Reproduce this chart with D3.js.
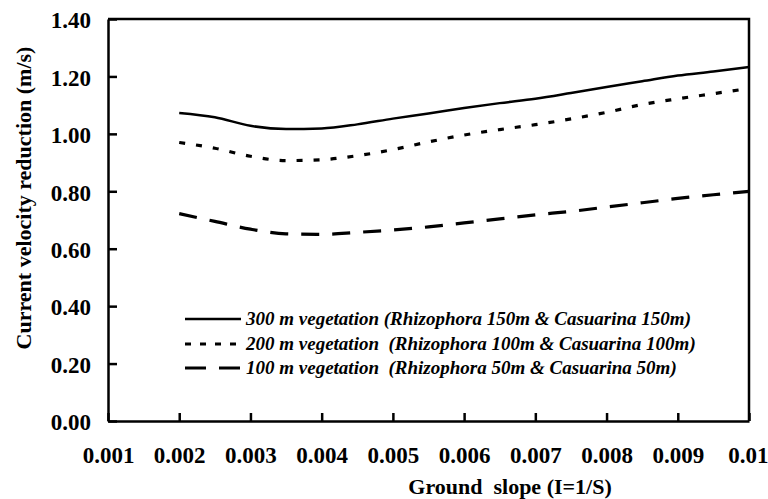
<!DOCTYPE html>
<html>
<head>
<meta charset="utf-8">
<script src="https://cdn.jsdelivr.net/npm/d3@7"></script>
<style>
  html, body { margin: 0; padding: 0; background: #fff; }
  svg { display: block; }
  text { font-family: "Liberation Serif", "Times New Roman", serif; fill: #000; }
</style>
</head>
<body>
<svg id="chart" width="768" height="499"></svg>
<script>
// Ground slope values (I = 1/S)
const slope = [0.002, 0.0025, 0.003, 0.0035, 0.004, 0.0045, 0.005, 0.0055, 0.006,
               0.0065, 0.007, 0.0075, 0.008, 0.0085, 0.009, 0.0095, 0.01];

// Current velocity reduction (m/s) for each vegetation width
const veg300 = [1.073, 1.058, 1.028, 1.017, 1.019, 1.033, 1.053, 1.071, 1.090,
                1.107, 1.122, 1.142, 1.163, 1.183, 1.203, 1.217, 1.233];
const veg200 = [0.970, 0.950, 0.922, 0.907, 0.910, 0.924, 0.945, 0.972, 0.996,
                1.015, 1.032, 1.052, 1.075, 1.102, 1.122, 1.140, 1.158];
const veg100 = [0.722, 0.695, 0.668, 0.652, 0.650, 0.657, 0.665, 0.676, 0.690,
                0.704, 0.718, 0.730, 0.745, 0.760, 0.775, 0.788, 0.800];

const seriesNames = [
  "300 m vegetation (Rhizophora 150m & Casuarina 150m)",
  "200 m vegetation  (Rhizophora 100m & Casuarina 100m)",
  "100 m vegetation  (Rhizophora 50m & Casuarina 50m)"
];

const yTicks = [0, 0.2, 0.4, 0.6, 0.8, 1.0, 1.2, 1.4];
const xTicks = [0.001, 0.002, 0.003, 0.004, 0.005, 0.006, 0.007, 0.008, 0.009, 0.01];
const xTickLabels = ["0.001", "0.002", "0.003", "0.004", "0.005", "0.006", "0.007", "0.008", "0.009", "0.01"];

const svg = d3.select("#chart");
const plotLeft = 108, plotRight = 749, plotTop = 19, plotBottom = 421;

const x = d3.scaleLinear().domain([0.001, 0.01]).range([plotLeft, plotRight]);
const y = d3.scaleLinear().domain([0, 1.4]).range([plotBottom, plotTop]);

// Y axis, ticks pointing into the plot
const yAxis = svg.append("g")
  .attr("transform", `translate(${plotLeft},0)`)
  .call(d3.axisLeft(y).tickValues(yTicks).tickFormat(d3.format(".2f"))
        .tickSizeInner(-9).tickSizeOuter(0).tickPadding(17));
yAxis.selectAll("text")
  .attr("font-size", 23).attr("font-weight", "bold")
  .attr("dy", "0.38em")
  .style("font-family", "'Liberation Serif', serif");

// X axis, ticks pointing into the plot
const xAxis = svg.append("g")
  .attr("transform", `translate(0,${plotBottom})`)
  .call(d3.axisBottom(x).tickValues(xTicks).tickFormat((d, i) => xTickLabels[i])
        .tickSizeInner(-8).tickSizeOuter(0));
xAxis.selectAll("text")
  .attr("font-size", 23).attr("font-weight", "bold")
  .attr("y", 42).attr("dy", null)
  .style("font-family", "'Liberation Serif', serif");
// keep the last label inside the page edge
xAxis.selectAll(".tick text").filter((d, i) => i === xTicks.length - 1)
  .attr("text-anchor", "end").attr("x", 19);

svg.selectAll(".domain, .tick line")
  .attr("stroke", "#000").attr("stroke-width", 2.5);

// Top and right frame edges
svg.append("path")
  .attr("d", `M${x(0.001)},${y(1.4)}H${x(0.01)}V${y(0)}`)
  .attr("fill", "none").attr("stroke", "#000").attr("stroke-width", 2.5);

// Series lines
const styles = [
  { dash: null, width: 2.5 },
  { dash: "6,11", width: 3.2 },
  { dash: "18,13", width: 3.2 }
];
const legendDash = [null, "6,9", "21,13"];
const seriesValues = [veg300, veg200, veg100];

const line = d3.line()
  .x((d, i) => x(slope[i]))
  .y(d => y(d))
  .curve(d3.curveMonotoneX);

seriesValues.forEach((vals, k) => {
  svg.append("path")
    .datum(vals)
    .attr("d", line)
    .attr("fill", "none")
    .attr("stroke", "#000")
    .attr("stroke-width", styles[k].width)
    .attr("stroke-dasharray", styles[k].dash);
});

// Legend
const legendRows = [319, 344, 368];
seriesNames.forEach((name, k) => {
  svg.append("line")
    .attr("x1", 185).attr("x2", 241)
    .attr("y1", legendRows[k]).attr("y2", legendRows[k])
    .attr("stroke", "#000")
    .attr("stroke-width", styles[k].width)
    .attr("stroke-dasharray", legendDash[k]);
  svg.append("text")
    .attr("x", 246).attr("y", legendRows[k] + 6)
    .attr("font-size", 19).attr("font-weight", "bold").attr("font-style", "italic")
    .attr("xml:space", "preserve")
    .style("white-space", "pre")
    .text(name);
});

// Axis titles
svg.append("text")
  .attr("x", 510).attr("y", 494)
  .attr("text-anchor", "middle")
  .attr("font-size", 22).attr("font-weight", "bold")
  .style("white-space", "pre")
  .text("Ground  slope (I=1/S)");

svg.append("text")
  .attr("transform", "translate(31,198) rotate(-90)")
  .attr("text-anchor", "middle")
  .attr("font-size", 22).attr("font-weight", "bold")
  .text("Current velocity reduction (m/s)");
</script>
</body>
</html>
